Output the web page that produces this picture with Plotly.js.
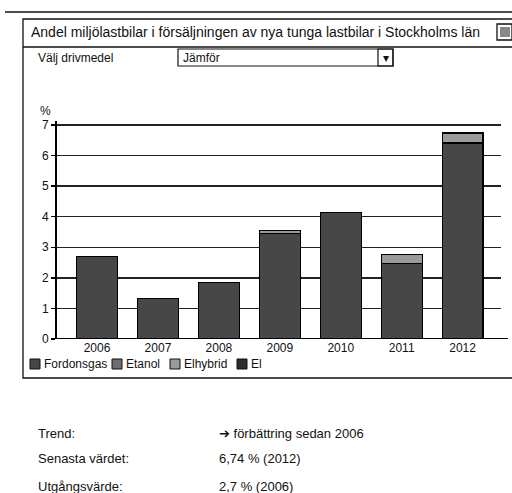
<!DOCTYPE html>
<html>
<head>
<meta charset="utf-8">
<script src="https://cdn.plot.ly/plotly-3.0.1.min.js"></script>
<style>
  html, body { margin: 0; padding: 0; background: #fff; }
  #chart { width: 512px; height: 493px; }
</style>
</head>
<body>
<div id="chart"></div>
<script>
// ---- Data ----
const years = ['2006', '2007', '2008', '2009', '2010', '2011', '2012'];
const seriesNames = ['Fordonsgas', 'Etanol', 'Elhybrid', 'El'];
const fordonsgas = [2.70, 1.33, 1.85, 3.45, 4.14, 2.47, 6.41];
const etanol     = [0.00, 0.00, 0.00, 0.00, 0.00, 0.00, 0.00];
const elhybrid   = [0.00, 0.00, 0.00, 0.09, 0.00, 0.30, 0.30];
const el         = [0.00, 0.00, 0.00, 0.00, 0.00, 0.00, 0.03];
const yTicks = [0, 1, 2, 3, 4, 5, 6, 7];

const titleText = 'Andel miljölastbilar i försäljningen av nya tunga lastbilar i Stockholms län';
const selectLabel = 'Välj drivmedel';
const selectValue = 'Jämför';
const infoLabels = ['Trend:', 'Senasta värdet:', 'Utgångsvärde:'];
const infoValues = ['<span style="font-family:DejaVu Sans;font-weight:bold">➔</span> förbättring sedan 2006', '6,74 % (2012)', '2,7 % (2006)'];

// ---- Styling ----
const seriesValues = [fordonsgas, etanol, elhybrid, el];
const colors = ['#474747', '#6e6e6e', '#9a9a9a', '#2e2e2e'];
const FONT = 'Liberation Sans, Arial, sans-serif';

// plot area in pixels
const L = 57, R = 501, T = 121, B = 339;
const fx = px => (px - L) / (R - L);
const fy = py => (B - py) / (B - T);

const traces = seriesValues.map((vals, i) => ({
  type: 'bar',
  name: seriesNames[i],
  x: years,
  y: vals,
  marker: { color: colors[i], line: { color: '#000', width: 1.2 } },
  showlegend: false,
  hoverinfo: 'x+y+name'
}));

const shapes = [
  // top rule
  { type: 'line', xref: 'paper', yref: 'paper', x0: fx(5), x1: fx(512), y0: fy(12), y1: fy(12), line: { color: '#111', width: 1.5 } },
  // panel
  { type: 'rect', xref: 'paper', yref: 'paper', x0: fx(23), x1: fx(520), y0: fy(19), y1: fy(378), line: { color: '#111', width: 1.3 } },
  // title bar separator
  { type: 'line', xref: 'paper', yref: 'paper', x0: fx(23), x1: fx(512), y0: fy(47), y1: fy(47), line: { color: '#111', width: 1.3 } },
  // title icon
  { type: 'rect', xref: 'paper', yref: 'paper', x0: fx(497), x1: fx(512), y0: fy(24), y1: fy(40), line: { color: '#111', width: 1.3 }, fillcolor: '#fff' },
  { type: 'rect', xref: 'paper', yref: 'paper', x0: fx(500), x1: fx(510), y0: fy(27), y1: fy(37), line: { color: '#333', width: 0 }, fillcolor: '#888' },
  // dropdown
  { type: 'rect', xref: 'paper', yref: 'paper', x0: fx(178), x1: fx(393), y0: fy(49), y1: fy(66), line: { color: '#111', width: 1.2 } },
  { type: 'rect', xref: 'paper', yref: 'paper', x0: fx(378), x1: fx(393), y0: fy(49), y1: fy(66), line: { color: '#111', width: 1.2 } },
  // x axis baseline (extends past gridlines)
  { type: 'line', xref: 'paper', yref: 'y', x0: 0, x1: fx(508), y0: 0, y1: 0, line: { color: '#000', width: 2 } }
];

const annotations = [
  { xref: 'paper', yref: 'paper', x: fx(29), y: fy(32), xanchor: 'left', yanchor: 'middle', showarrow: false,
    text: titleText, font: { family: FONT, size: 14, color: '#111' } },
  { xref: 'paper', yref: 'paper', x: fx(36), y: fy(58), xanchor: 'left', yanchor: 'middle', showarrow: false,
    text: selectLabel, font: { family: FONT, size: 12, color: '#111' } },
  { xref: 'paper', yref: 'paper', x: fx(181), y: fy(58), xanchor: 'left', yanchor: 'middle', showarrow: false,
    text: selectValue, font: { family: FONT, size: 12, color: '#111' } },
  { xref: 'paper', yref: 'paper', x: fx(385.5), y: fy(58), xanchor: 'center', yanchor: 'middle', showarrow: false,
    text: '▾', font: { family: 'DejaVu Sans', size: 12, color: '#111' } },
  { xref: 'paper', yref: 'paper', x: fx(45), y: fy(111), xanchor: 'center', yanchor: 'middle', showarrow: false,
    text: '%', font: { family: FONT, size: 12, color: '#111' } }
];

// custom legend
const legendX = [30, 112, 170, 237];
seriesNames.forEach((n, i) => {
  const x0 = legendX[i];
  shapes.push({ type: 'rect', xref: 'paper', yref: 'paper', x0: fx(x0), x1: fx(x0 + 10), y0: fy(359), y1: fy(369),
    line: { color: '#111', width: 1 }, fillcolor: colors[i] });
  annotations.push({ xref: 'paper', yref: 'paper', x: fx(x0 + 12), y: fy(364), xanchor: 'left', yanchor: 'middle', showarrow: false,
    text: n, font: { family: FONT, size: 12, color: '#111' } });
});

// info rows
const rowY = [433, 458, 486];
infoLabels.forEach((t, i) => {
  annotations.push({ xref: 'paper', yref: 'paper', x: fx(36), y: fy(rowY[i]), xanchor: 'left', yanchor: 'middle', showarrow: false,
    text: t, font: { family: FONT, size: 13, color: '#111' } });
  annotations.push({ xref: 'paper', yref: 'paper', x: fx(217), y: fy(rowY[i]), xanchor: 'left', yanchor: 'middle', showarrow: false,
    text: infoValues[i], font: { family: FONT, size: 13, color: '#111' } });
});

const layout = {
  width: 512, height: 493,
  margin: { l: L, r: 512 - R, t: T, b: 493 - B, pad: 0 },
  paper_bgcolor: '#fff', plot_bgcolor: '#fff',
  barmode: 'stack',
  bargap: 0.33,
  showlegend: false,
  font: { family: FONT, size: 12, color: '#111' },
  xaxis: {
    type: 'category',
    range: [-0.657, 6.63],
    showgrid: false, zeroline: false, showline: false,
    ticks: '',
    tickfont: { family: FONT, size: 12, color: '#111' },
    fixedrange: true
  },
  yaxis: {
    range: [0, 7.13],
    tickvals: yTicks,
    ticktext: yTicks.map(String),
    showgrid: true, gridcolor: '#222', gridwidth: 1.3,
    zeroline: false,
    showline: true, linecolor: '#000', linewidth: 2,
    ticks: 'outside', ticklen: 4, tickcolor: '#000', tickwidth: 1.5,
    tickfont: { family: FONT, size: 12, color: '#111' },
    fixedrange: true
  },
  shapes: shapes,
  annotations: annotations
};

Plotly.newPlot('chart', traces, layout, { displayModeBar: false, staticPlot: true });
</script>
</body>
</html>
